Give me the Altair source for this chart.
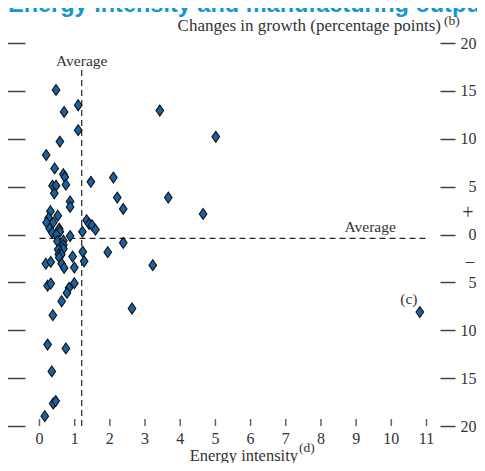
import altair as alt
import pandas as pd

# Energy intensity (x) and change in manufacturing growth (y)
x_vals = [0.47, 1.10, 0.70, 3.42, 1.10, 5.01, 0.58, 0.19, 0.43, 0.68, 0.72, 0.75,
          2.10, 1.46, 0.37, 0.47, 0.42, 2.21, 3.66, 0.87, 0.87, 2.38, 4.65, 0.31,
          0.52, 0.26, 0.20, 0.39, 0.29, 0.36, 0.56, 0.58, 0.87, 1.22, 1.34, 1.41,
          1.49, 1.59, 0.48, 0.51, 0.68, 0.68, 0.68, 0.53, 2.38, 1.94, 1.23, 0.55,
          0.62, 0.94, 0.56, 1.27, 0.18, 0.32, 0.63, 0.70, 0.99, 3.22, 0.23, 0.32,
          0.99, 0.84, 0.78, 0.63, 2.63, 0.38, 0.23, 0.75, 0.35, 0.39, 0.46, 0.15,
          10.81]
y_vals = [15.1, 13.5, 12.8, 12.95, 10.9, 10.2, 9.7, 8.3, 6.9, 6.3, 6.0, 5.2,
          5.95, 5.5, 5.1, 5.1, 4.3, 3.86, 3.86, 3.45, 2.88, 2.67, 2.15, 2.43,
          1.96, 1.73, 1.25, 1.25, 0.63, 0.2, 0.6, 0.3, -0.16, 0.3, 1.5, 1.1,
          0.97, 0.5, 0.0, -0.7, -0.65, -1.1, -1.5, -1.57, -0.87, -1.85, -1.8, -2.05,
          -2.1, -2.3, -2.4, -2.8, -3.05, -2.86, -3.05, -3.49, -3.45, -3.2, -5.35, -5.12,
          -5.08, -5.57, -6.1, -6.97, -7.73, -8.43, -11.5, -11.9, -14.3, -17.65, -17.4, -18.98,
          -8.1]

x_ticks = list(range(0, 12))
y_ticks = list(range(-20, 21, 5))
avg_x = 1.2
avg_y = -0.4
avg_x_top = 17.3

SERIF = "Liberation Serif"
DIAMOND = "M0,-1L0.7,0L0,1L-0.7,0Z"
INK = "#333333"

df = pd.DataFrame({"x": x_vals, "y": y_vals})
xscale = alt.Scale(domain=[0, 11], nice=False, zero=False)
yscale = alt.Scale(domain=[-20, 20], nice=False, zero=False)

points = alt.Chart(df).mark_point(
    shape=DIAMOND, filled=True, size=118, fill="#1862a4", stroke="#111111",
    strokeWidth=1.1, opacity=1
).encode(
    x=alt.X("x:Q", scale=xscale, axis=alt.Axis(
        values=x_ticks, ticks=False, labels=False, domain=True,
        domainColor="#222222", domainWidth=1.5, grid=False, title=None)),
    y=alt.Y("y:Q", scale=yscale, axis=alt.Axis(
        orient="left", values=y_ticks, labels=False, domain=False, tickSize=18,
        tickWidth=1.5, tickColor="#444444", offset=14.5, grid=False, title=None)),
)

hline = alt.Chart(pd.DataFrame({"x": [0], "x2": [11], "y": [avg_y]})).mark_rule(
    strokeDash=[6, 4], color="#222222", strokeWidth=1.2
).encode(
    x=alt.X("x:Q", scale=xscale, axis=None),
    x2="x2:Q",
    y=alt.Y("y:Q", scale=yscale, axis=alt.Axis(
        orient="right", values=y_ticks, labelExpr="abs(datum.value)", domain=False,
        tickSize=15, tickWidth=1.5, tickColor="#444444", offset=13.5,
        labelAlign="right", labelBaseline="middle", labelPadding=21,
        labelFont=SERIF, labelFontSize=16, labelColor=INK, grid=False,
        title=None, labelFlush=False)),
)

vline = alt.Chart(pd.DataFrame({"x": [avg_x], "y": [-20], "y2": [avg_x_top]})).mark_rule(
    strokeDash=[6, 4], color="#222222", strokeWidth=1.2
).encode(
    x=alt.X("x:Q", scale=xscale, axis=None),
    y=alt.Y("y:Q", scale=yscale, axis=None),
    y2="y2:Q",
)

tick_df = pd.DataFrame({"v": x_ticks, "lab": [str(v) for v in x_ticks]})

xtick_marks = alt.Chart(tick_df).mark_tick(
    orient="vertical", size=7, thickness=1.5, color="#222222"
).encode(
    x=alt.X("v:Q", scale=xscale, axis=None),
    y=alt.value(379.5),
)

xtick_labels = alt.Chart(tick_df).mark_text(
    font=SERIF, fontSize=16, color=INK, align="center", baseline="middle"
).encode(
    x=alt.X("v:Q", scale=xscale, axis=None),
    y=alt.value(396),
    text="lab:N",
)

labels_df = pd.DataFrame({
    "x": [avg_x, 9.4, 10.5],
    "y": [18.1, 0.75, -6.75],
    "t": ["Average", "Average", "(c)"],
})
labels = alt.Chart(labels_df).mark_text(
    font=SERIF, fontSize=15.5, color=INK, align="center", baseline="middle"
).encode(
    x=alt.X("x:Q", scale=xscale, axis=None),
    y=alt.Y("y:Q", scale=yscale, axis=None),
    text="t:N",
)


def ann(text, x, y, size, align="left", baseline="alphabetic", font=SERIF,
        color=INK, weight="normal"):
    return alt.Chart(pd.DataFrame({"t": [text]})).mark_text(
        font=font, fontSize=size, color=color, align=align, baseline=baseline,
        fontWeight=weight
    ).encode(x=alt.value(x), y=alt.value(y), text="t:N")


title = ann("Energy intensity and manufacturing output", -31.5, -31, 23.5,
            font="Liberation Sans", color="#1496d2", weight="bold")
ytitle = ann("Changes in growth (percentage points)", 401.5, -12, 17, align="right")
ysup = ann("(b)", 404.5, -18, 13.5)
xtitle = ann("Energy intensity", 258.5, 418, 16.5, align="right")
xsup = ann("(d)", 259.5, 408.5, 13.5)
plus = ann("+", 428.5, 170, 20, align="center", baseline="middle")
minus = ann("\u2013", 430.5, 218, 17, align="center", baseline="middle")

chart = alt.layer(
    vline, hline, xtick_marks, points, xtick_labels, labels, title, ytitle, ysup,
    xtitle, xsup, plus, minus
).resolve_axis(y="independent").properties(
    width=387, height=383,
    autosize=alt.AutoSizeParams(type="none"),
    padding={"left": 31.5, "top": 35, "right": 50.5, "bottom": 37},
).configure_view(stroke=None)

chart.save("out.html", embed_options={"renderer": "svg", "actions": False})
